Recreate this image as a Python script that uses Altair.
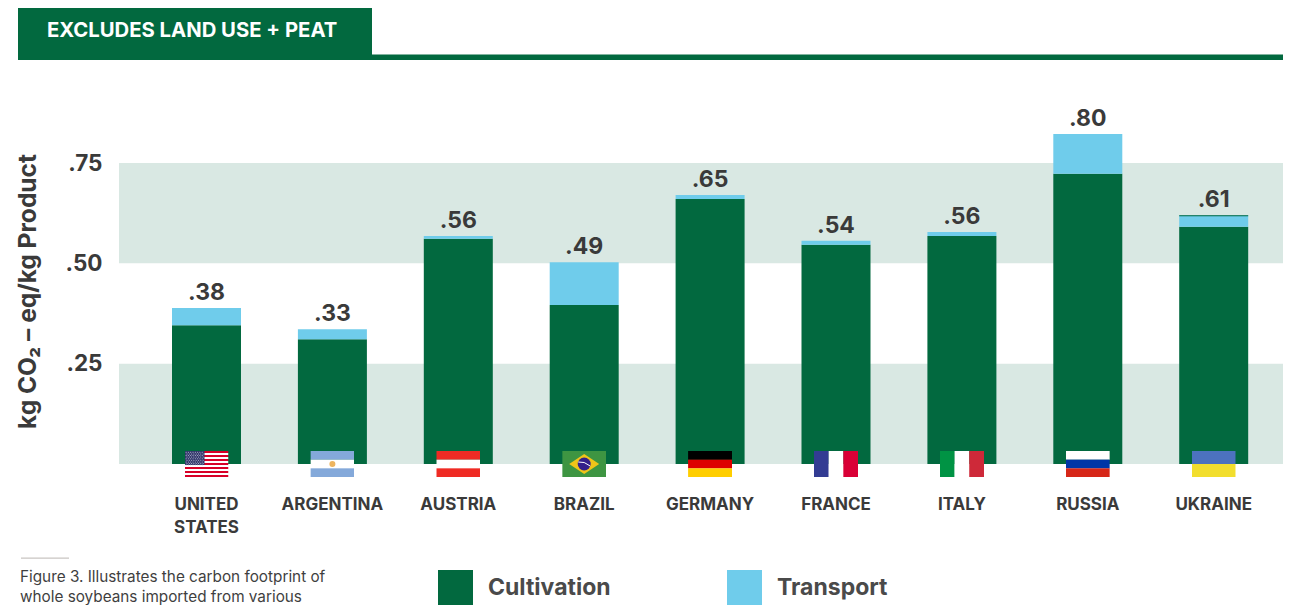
import base64
import altair as alt
import pandas as pd

countries = ["UNITED STATES", "ARGENTINA", "AUSTRIA", "BRAZIL", "GERMANY", "FRANCE", "ITALY", "RUSSIA", "UKRAINE"]
cultivation = [0.346, 0.311, 0.561, 0.396, 0.660, 0.546, 0.568, 0.723, 0.591]
transport = [0.043, 0.025, 0.007, 0.107, 0.010, 0.010, 0.010, 0.099, 0.029]
value_labels = [".38", ".33", ".56", ".49", ".65", ".54", ".56", ".80", ".61"]
y_ticks = [0.25, 0.50, 0.75]
band_low = [0.0, 0.5]
band_high = [0.25, 0.75]
series = ["Cultivation", "Transport"]
header_text = ["EXCLUDES LAND USE + PEAT"]
caption_lines = ["Figure 3. Illustrates the carbon footprint of", "whole soybeans imported from various"]
y_title = "kg CO\u2082 \u2013 eq/kg Product"

DARK = "#02693F"
BLUE = "#6FCCEB"
BAND = "#D9E8E3"
INK = "#3A3A3A"
FONT = "Inter"


def svg(body):
    s = f'<svg xmlns="http://www.w3.org/2000/svg" width="44" height="26" viewBox="0 0 44 26" preserveAspectRatio="none">{body}</svg>'
    return "data:image/svg+xml;base64," + base64.b64encode(s.encode()).decode()


def hstripes(cols):
    h = 26 / len(cols)
    return "".join(f'<rect x="0" y="{i*h}" width="44" height="{h+0.1}" fill="{c}"/>' for i, c in enumerate(cols))


def vstripes(cols):
    w = 44 / len(cols)
    return "".join(f'<rect x="{i*w}" y="0" width="{w+0.1}" height="26" fill="{c}"/>' for i, c in enumerate(cols))


us_stars = "".join(
    f'<circle cx="{1.6+c*2.3+(0.9 if r%2 else 0)}" cy="{1.3+r*1.6}" r="0.5" fill="#C8CCE0"/>'
    for r in range(9) for c in range(8)
)
flags = [
    svg(hstripes(["#D80027", "#FFFFFF"] * 6 + ["#D80027"]) + '<rect width="20" height="14" fill="#33386B"/>' + us_stars),
    svg(hstripes(["#84A9DA", "#FFFFFF", "#84A9DA"]) + '<circle cx="22" cy="13" r="3" fill="#EDB45F"/>'),
    svg(hstripes(["#EF2B24", "#FFFFFF", "#EF2B24"])),
    svg('<rect width="44" height="26" fill="#3E9542"/><polygon points="22,3 37,13 22,23 7,13" fill="#F0C419"/>'
        '<circle cx="22" cy="13" r="6.5" fill="#34208A"/><path d="M16 11 Q22 10 28 15" stroke="#fff" stroke-width="1" fill="none"/>'),
    svg(hstripes(["#000000", "#DD0000", "#FFCE00"])),
    svg(vstripes(["#333C93", "#FFFFFF", "#D90036"])),
    svg(vstripes(["#009344", "#FFFFFF", "#CE2939"])),
    svg(hstripes(["#FFFFFF", "#0036A7", "#D62718"])),
    svg('<rect width="44" height="13" fill="#4C72BE"/><rect y="13" width="44" height="13" fill="#F2DE2E"/>'),
]

totals = [round(c + t, 3) for c, t in zip(cultivation, transport)]

stack = pd.DataFrame(
    [{"country": k, "series": series[0], "start": 0, "end": c} for k, c in zip(countries, cultivation)]
    + [{"country": k, "series": series[1], "start": c, "end": c + t} for k, c, t in zip(countries, cultivation, transport)]
)
tops = pd.DataFrame({"country": countries, "total": totals, "label": value_labels, "flag": flags})
bands = pd.DataFrame({"low": band_low, "high": band_high})
ukraine_edge = pd.DataFrame({"country": ["UKRAINE"], "low": [0.6175], "high": [0.620]})

x_scale = alt.Scale(domain=countries, range=[135.55, 1268.65], paddingInner=0.452, paddingOuter=0.226)
y_scale = alt.Scale(domain=[0, 1], range=[456, 54.67])

y_axis = alt.Axis(
    values=y_ticks, orient="left", offset=-94, domain=False, ticks=False, grid=False, labelPadding=0,
    labelExpr="replace(format(datum.value,'.2f'),'0.','.')",
    labelFont=FONT, labelFontSize=22.5, labelFontWeight="bold", labelColor=INK, labelBaseline="middle",
    title=y_title, titleFont=FONT, titleFontSize=24.5, titleFontWeight="bold", titleColor=INK,
    titleX=-74, titleY=283, titleAlign="center", titleBaseline="middle", titleAngle=270,
)
x_axis = alt.Axis(
    orient="bottom", offset=-109, domain=False, ticks=False, grid=False, labelPadding=0, labelAngle=0,
    labelExpr="datum.value == 'UNITED STATES' ? ['UNITED','STATES'] : datum.value",
    labelFont=FONT, labelFontSize=17, labelFontWeight="bold", labelColor=INK,
    labelLineHeight=23, labelBaseline="top", labelAlign="center", labelLimit=200, title=None,
)


def X():
    return alt.X("country:N", scale=x_scale, sort=countries, axis=x_axis)


def Y(field):
    return alt.Y(field, type="quantitative", scale=y_scale, axis=y_axis)


band_layer = alt.Chart(bands).mark_rect(color=BAND).encode(
    x=alt.value(111), x2=alt.value(1275),
    y=Y("low"), y2="high",
)
bar_layer = alt.Chart(stack).mark_bar().encode(
    x=X(),
    y=Y("end"), y2="start",
    color=alt.Color(
        "series:N",
        scale=alt.Scale(domain=series, range=[DARK, BLUE]),
        legend=alt.Legend(
            orient="none", legendX=430, legendY=562, direction="horizontal", title=None,
            symbolType="square", symbolSize=1225, symbolStrokeWidth=0, symbolOpacity=1,
            labelFont=FONT, labelFontSize=23, labelFontWeight="bold", labelColor="#4A4A4A",
            labelOffset=15, columnPadding=116, padding=0,
        ),
    ),
)
edge_layer = alt.Chart(ukraine_edge).mark_bar(color=DARK).encode(x=X(), y=Y("low"), y2="high")
flag_layer = alt.Chart(tops).mark_image(width=44, height=26, align="center", baseline="middle", aspect=False).encode(
    x=X(), y=alt.value(456), url="flag:N"
)
label_layer = alt.Chart(tops).mark_text(
    font=FONT, fontSize=23, fontWeight="bold", color=INK, baseline="bottom", align="center", dy=-3
).encode(x=X(), y=Y("total"), text="label:N")

header_rect = alt.Chart(pd.DataFrame({"a": [0]})).mark_rect(color=DARK).encode(
    x=alt.value(10), x2=alt.value(364), y=alt.value(0), y2=alt.value(52)
)
header_line = alt.Chart(pd.DataFrame({"a": [0]})).mark_rect(color=DARK).encode(
    x=alt.value(364), x2=alt.value(1275), y=alt.value(46.5), y2=alt.value(52)
)
header_label = alt.Chart(pd.DataFrame({"t": header_text})).mark_text(
    font=FONT, fontSize=20.3, fontWeight="bold", color="#FFFFFF", align="left", baseline="middle"
).encode(x=alt.value(39), y=alt.value(22.5), text="t:N")

caption_rule = alt.Chart(pd.DataFrame({"a": [0]})).mark_rect(color="#C9C5C2").encode(
    x=alt.value(13), x2=alt.value(61), y=alt.value(549.5), y2=alt.value(550.8)
)
caption = alt.Chart(pd.DataFrame({"t": caption_lines, "py": [568.5, 589]})).mark_text(
    font=FONT, fontSize=15.3, color="#3F3F3F", align="left", baseline="middle"
).encode(x=alt.value(12), y=alt.Y("py:Q", scale=None, axis=None), text="t:N")

chart = alt.layer(
    band_layer, bar_layer, edge_layer, flag_layer, label_layer,
    header_rect, header_line, header_label, caption_rule, caption,
).properties(
    width=1275, height=597, padding=0, background="#FFFFFF",
    autosize=alt.AutoSizeParams(type="none"),
).configure_view(stroke=None)

chart.save("out.html", embed_options={"renderer": "svg", "actions": False})
